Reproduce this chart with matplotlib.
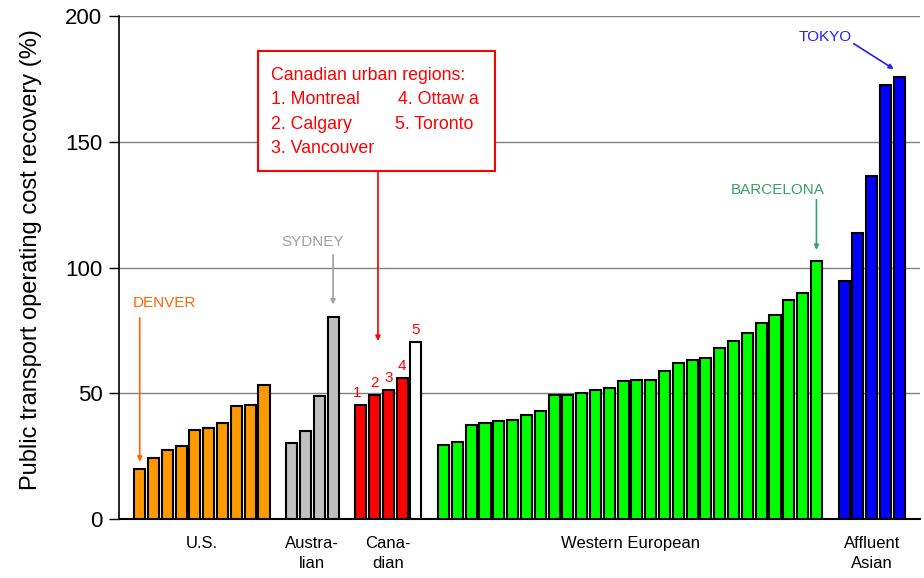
import numpy as np
import matplotlib.pyplot as plt
from matplotlib.patches import Rectangle

plt.rcParams['font.family'] = ['Liberation Sans', 'DejaVu Sans']

# cost recovery (%), grouped by region
us = [19.8, 24.3, 27.6, 28.9, 35.5, 36.2, 38.2, 44.8, 45.4, 53.4]
australian = [30.3, 34.9, 48.8, 80.3]
canadian = [45.4, 49.4, 51.3, 55.9, 70.4]
western_european = [29.5, 30.7, 37.5, 38.2, 38.8, 39.5, 41.5, 42.8, 49.4, 49.4,
                    50.1, 51.4, 52.2, 54.7, 55.4, 55.4, 58.7, 62.0, 63.4, 64.0,
                    68.0, 70.6, 74.0, 77.9, 81.2, 87.2, 89.9, 102.5]
asian = [94.5, 113.7, 136.3, 172.6, 175.9]

group_labels = ['U.S.', 'Austra-\nlian', 'Cana-\ndian', 'Western European', 'Affluent\nAsian']
group_colors = ['#FF9900', '#C0C0C0', '#FF0000', '#00FF00', '#0000FF']
groups = [us, australian, canadian, western_european, asian]

fig = plt.figure(figsize=(9.24, 5.78), dpi=100)
ax = fig.add_axes([0.1288, 0.102, 0.8669, 0.8703])

# lay out bars with one empty slot between groups
pos = 0
xs_all = []
centers = []
for vals, col in zip(groups, group_colors):
    xs = np.arange(pos, pos + len(vals))
    colors = [col] * len(vals)
    if vals is canadian:
        colors[-1] = '#FFFFFF'  # Toronto drawn white
    ax.bar(xs, vals, width=0.8, color=colors, edgecolor='black', linewidth=1.5, zorder=3)
    xs_all.append(xs)
    centers.append(xs.mean())
    pos += len(vals) + 1

ax.set_xlim(-1.5, pos - 0.5)
ax.set_ylim(0, 200)
ax.set_yticks([0, 50, 100, 150, 200])
ax.yaxis.grid(True, color='#808080', linewidth=1)
ax.set_axisbelow(True)
ax.tick_params(axis='y', labelsize=16, length=7, width=1, direction='out', pad=5)
ax.set_xticks(centers, group_labels)
ax.tick_params(axis='x', length=0, labelsize=12, pad=12)
for lab in ax.get_xticklabels():
    lab.set_linespacing(1.45)
ax.set_ylabel('Public transport operating cost recovery (%)', fontsize=17)
ax.yaxis.set_label_coords(-0.096, 0.515)
ax.spines['top'].set_visible(False)
ax.spines['right'].set_visible(False)
ax.spines['left'].set_linewidth(1.2)
ax.spines['bottom'].set_linewidth(1.5)

arrow = dict(arrowstyle='-|>', mutation_scale=7, linewidth=1.2, shrinkA=0, shrinkB=0)
fs_note = 11

# DENVER
x_den = xs_all[0][0]
ax.annotate('', xy=(x_den, us[0] + 3), xytext=(x_den, 80),
            arrowprops=dict(arrow, color='#FF6600'))
ax.text(x_den + 1.8, 86, 'DENVER', color='#FF6600', fontsize=fs_note, ha='center', va='center')

# SYDNEY
x_syd = xs_all[1][-1]
ax.annotate('', xy=(x_syd, australian[-1] + 5), xytext=(x_syd, 105),
            arrowprops=dict(arrow, color='#A0A0A0'))
ax.text(x_syd - 1.5, 110, 'SYDNEY', color='#A0A0A0', fontsize=fs_note, ha='center', va='center')

# Canadian numbers
for i, (x, v) in enumerate(zip(xs_all[2], canadian)):
    ax.text(x - 0.25 if i == 0 else x, v + 2, str(i + 1), color='#FF0000', fontsize=11,
            ha='center', va='bottom')

# Canadian box
fs_box = 12.8
ax.add_patch(Rectangle((8.6, 138.4), 17.1, 47.7, facecolor='white', edgecolor='#FF0000',
                       linewidth=1.5, zorder=4))
ax.text(9.5, 176.5, 'Canadian urban regions:', color='#FF0000', fontsize=fs_box, va='center', zorder=5)
ax.text(9.5, 166.8, '1. Montreal', color='#FF0000', fontsize=fs_box, va='center', zorder=5)
ax.text(9.5, 157.0, '2. Calgary', color='#FF0000', fontsize=fs_box, va='center', zorder=5)
ax.text(9.5, 147.3, '3. Vancouver', color='#FF0000', fontsize=fs_box, va='center', zorder=5)
ax.text(18.7, 166.8, '4. Ottaw a', color='#FF0000', fontsize=fs_box, va='center', zorder=5)
ax.text(18.5, 157.0, '5. Toronto', color='#FF0000', fontsize=fs_box, va='center', zorder=5)
ax.annotate('', xy=(17.25, 70.8), xytext=(17.25, 138.4),
            arrowprops=dict(arrow, color='#FF0000'), zorder=5)

# BARCELONA
x_bar = xs_all[3][-1]
ax.annotate('', xy=(x_bar, western_european[-1] + 4.5), xytext=(x_bar, 127),
            arrowprops=dict(arrow, color='#3AA06A'))
ax.text(x_bar - 2.8, 131, 'BARCELONA', color='#3AA06A', fontsize=fs_note, ha='center', va='center')

# TOKYO
x_tok = xs_all[4][-1]
ax.annotate('', xy=(x_tok - 0.4, asian[-1] + 3), xytext=(x_tok - 3.3, 189),
            arrowprops=dict(arrow, color='#2020FF'))
ax.text(x_tok - 5.4, 191.6, 'TOKYO', color='#2020FF', fontsize=fs_note, ha='center', va='center')

fig.savefig('out.png', dpi=100)
